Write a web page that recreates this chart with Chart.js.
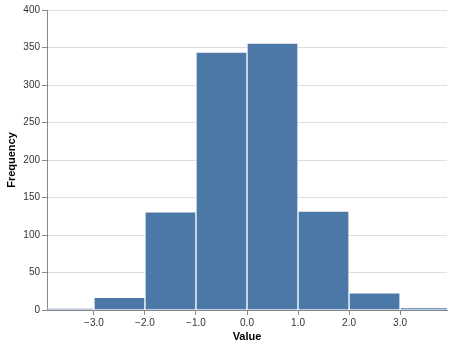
<!DOCTYPE html>
<html>
<head>
<meta charset="utf-8">
<script src="https://cdn.jsdelivr.net/npm/chart.js@4"></script>
<style>
  html, body { margin: 0; padding: 0; background: #fff; }
  #wrap { width: 453px; height: 347px; }
</style>
</head>
<body>
<div id="wrap"><canvas id="histChart" width="453" height="347"></canvas></div>
<script>
// histogram bins (center of each bin) and counts
const binCenters = [-3.5, -2.5, -1.5, -0.5, 0.5, 1.5, 2.5, 3.5];
const frequencias = [2, 17, 131, 344, 356, 132, 23, 3];
const xTicks = [-3, -2, -1, 0, 1, 2, 3];
const yTicks = [0, 50, 100, 150, 200, 250, 300, 350, 400];
const xMin = -3.92, xMax = 3.92;

Chart.defaults.font.family = "'Liberation Sans', Arial, Helvetica, sans-serif";
Chart.defaults.color = "#333";
const gridColor = "#dddddd";
const axisColor = "#888888";

let pontos = [];
for (let i = 0; i < binCenters.length; i++) {
    pontos.push({ x: binCenters[i], y: frequencias[i] });
}

new Chart(document.getElementById("histChart"), {
    type: "bar",
    data: {
        datasets: [{
            label: "Frequency",
            data: pontos,
            backgroundColor: "#4c78a8",
            borderColor: "rgba(255,255,255,0.75)",
            borderWidth: 1,
            barPercentage: 1,
            categoryPercentage: 1
        }]
    },
    options: {
        responsive: false,
        animation: false,
        layout: { padding: { top: 10, right: 6, left: 0, bottom: 0 } },
        plugins: {
            legend: { display: false },
            tooltip: { enabled: false }
        },
        scales: {
            x: {
                type: "linear",
                offset: false,
                min: xMin,
                max: xMax,
                afterBuildTicks: s => { s.ticks = xTicks.map(v => ({ value: v })); },
                afterFit: s => { s.height = 37; },
                grid: { offset: false, drawOnChartArea: false, drawTicks: true, tickLength: 5, color: axisColor },
                border: { color: axisColor },
                ticks: {
                    font: { size: 10 },
                    color: "#333",
                    padding: 2,
                    maxRotation: 0,
                    callback: v => (v < 0 ? "\u2212" : "") + Math.abs(v).toFixed(1)
                },
                title: {
                    display: true,
                    text: "Value",
                    font: { size: 11, weight: "bold" },
                    color: "#000",
                    padding: { top: 1, bottom: 3 }
                }
            },
            y: {
                min: 0,
                max: 400,
                afterBuildTicks: s => { s.ticks = yTicks.map(v => ({ value: v })); },
                afterFit: s => { s.width = 47; },
                grid: { color: gridColor, tickColor: axisColor, tickLength: 5 },
                border: { color: axisColor },
                ticks: { font: { size: 10 }, color: "#333", padding: 2 },
                title: {
                    display: true,
                    text: "Frequency",
                    font: { size: 11, weight: "bold" },
                    color: "#000",
                    padding: { top: 5, bottom: 4 }
                }
            }
        }
    }
});
</script>
</body>
</html>
